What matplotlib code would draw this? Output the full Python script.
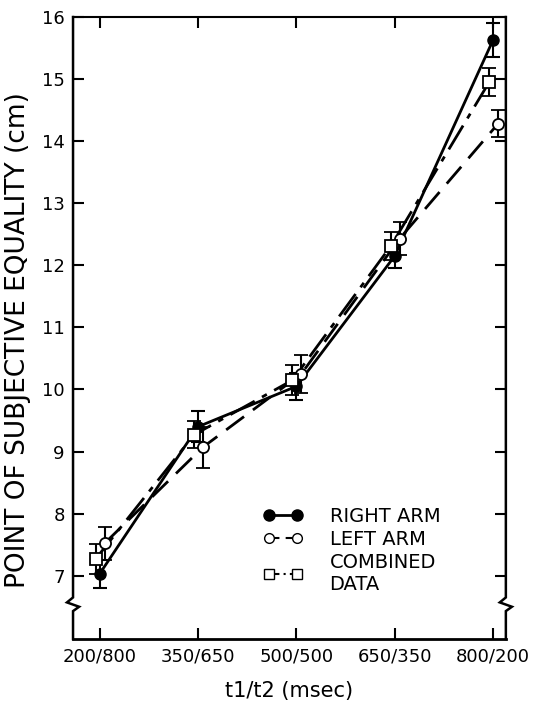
import matplotlib
matplotlib.use('Agg')
import matplotlib.pyplot as plt
import matplotlib.transforms as mtransforms
from matplotlib.lines import Line2D
import numpy as np

# Data
conditions = ['200/800', '350/650', '500/500', '650/350', '800/200']
right_arm = [7.03, 9.40, 10.05, 12.15, 15.63]
right_err = [0.22, 0.25, 0.22, 0.20, 0.28]
left_arm = [7.52, 9.07, 10.25, 12.43, 14.28]
left_err = [0.26, 0.33, 0.30, 0.27, 0.22]
combined = [7.27, 9.27, 10.15, 12.31, 14.95]
combined_err = [0.24, 0.22, 0.24, 0.22, 0.23]

plt.rcParams['font.family'] = ['DejaVu Sans']

fig = plt.figure(figsize=(5.37, 7.01), dpi=100)
ax = fig.add_axes([0.136, 0.0884, 0.806, 0.8873])

x = np.arange(len(conditions))

# Right arm - filled circles, solid
ax.errorbar(x, right_arm, yerr=right_err, fmt='-o', color='black', lw=2,
            ms=8, mfc='black', mec='black', capsize=5, elinewidth=1.5,
            capthick=1.5, zorder=3)
# Left arm - open circles, dashed
ax.errorbar(x + 0.05, left_arm, yerr=left_err, fmt='o', color='black',
            ms=8, mfc='white', mec='black', mew=1.3, capsize=5,
            elinewidth=1.5, capthick=1.5, zorder=4)
ax.plot(x + 0.05, left_arm, color='black', lw=2, ls=(0, (8, 4)), zorder=2)
# Combined - open squares, dash-dot
ax.errorbar(x - 0.04, combined, yerr=combined_err, fmt='s', color='black',
            ms=8, mfc='white', mec='black', mew=1.3, capsize=5,
            elinewidth=1.5, capthick=1.5, zorder=4)
ax.plot(x - 0.04, combined, color='black', lw=2, ls=(0, (10, 3, 2, 3)),
        zorder=2)

ax.set_xlim(-0.27, 4.13)
ax.set_ylim(5.98, 16)
ax.set_xticks(x)
ax.set_xticklabels(conditions, fontsize=12.5)
ax.set_yticks(range(7, 17))
ax.tick_params(axis='both', direction='in', length=8, width=1.5,
               labelsize=13, top=True, right=True, pad=6)

# Left/right spines drawn by hand with an axis break
for side in ['left', 'right']:
    ax.spines[side].set_visible(False)
ax.spines['top'].set_linewidth(1.5)
ax.spines['bottom'].set_linewidth(2)

trans = mtransforms.blended_transform_factory(ax.transAxes, ax.transData)
dx = 0.014
for xs in [0, 1]:
    ax.plot([xs, xs, xs - dx, xs + dx, xs, xs],
            [16, 6.65, 6.57, 6.5, 6.43, 5.98],
            transform=trans, color='black', lw=1.8, clip_on=False,
            solid_joinstyle='miter')

ax.set_ylabel('POINT OF SUBJECTIVE EQUALITY (cm)', fontsize=19)
ax.yaxis.set_label_coords(-0.098, 0.48)
ax.set_xlabel('t1/t2 (msec)', fontsize=15, va='top')
ax.xaxis.set_label_coords(0.5, -0.068)

# Legend
handles = [
    Line2D([], [], color='black', lw=2, marker='o', ms=8, mfc='black'),
    Line2D([], [], color='black', lw=1.5, ls=(0, (5, 3)), marker='o', ms=7,
           mfc='white'),
    Line2D([], [], color='black', lw=1.5, ls=(0, (5, 2, 1, 2)), marker='s',
           ms=7, mfc='white'),
]
ax.legend(handles, ['RIGHT ARM', 'LEFT ARM', 'COMBINED\nDATA'],
          loc='upper left', bbox_to_anchor=(0.44, 0.212), frameon=False,
          numpoints=2, handlelength=2.0, fontsize=14, labelspacing=0.2,
          handletextpad=1.4, borderpad=0, borderaxespad=0)

plt.savefig('out.png', dpi=100)
plt.close()
